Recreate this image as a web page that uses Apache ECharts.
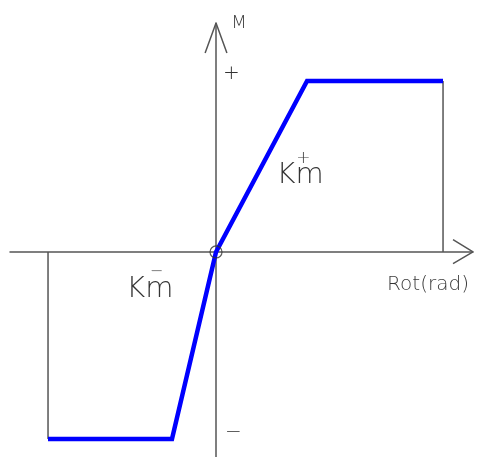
<!DOCTYPE html>
<html>
<head>
<meta charset="utf-8">
<script src="https://cdn.jsdelivr.net/npm/echarts@6/dist/echarts.min.js"></script>
<style>html,body{margin:0;padding:0;background:#fff}#c{width:477px;height:457px}</style>
</head>
<body>
<div id="c"></div>
<script>
// Moment-rotation envelope (normalised units)
const rotation = [-0.74, -0.194, 0, 0.401, 1.0];
const moment   = [-1.094, -1.094, 0, 1.0, 1.0];
// axis extents
const xRange = [-0.9075, 1.132];
const yRange = [-1.199, 1.339];
// label texts
const labels = [
  {text: 'M', at: [0.101, 1.336], size: 18},
  {text: '+', at: [0.068, 1.041], size: 20},
  {text: '\u2212', at: [0.077, -1.058], size: 20},
  {text: 'Rot(rad)', at: [0.934, -0.19], size: 20},
  {text: 'Km', at: [-0.291, -0.22], size: 29},
  {text: '\u2212', at: [-0.262, -0.118], size: 16},
  {text: 'Km', at: [0.370, 0.448], size: 29},
  {text: '+', at: [0.385, 0.545], size: 17}
];

const axisColor = '#555';
const font = 'DejaVu Sans';
const chart = echarts.init(document.getElementById('c'), null, {renderer: 'canvas'});

const env = rotation.map((r, i) => [r, moment[i]]);
const xMax = xRange[1], yMax = yRange[1];
const xArrow = [[xMax - 0.088, 0.072], [xMax, 0], [xMax - 0.088, -0.068]];
const yArrow = [[-0.048, yMax - 0.175], [0, yMax], [0.048, yMax - 0.175]];
const rightDrop = [[rotation[4], moment[4]], [rotation[4], 0]];
const leftDrop = [[rotation[0], 0], [rotation[0], moment[0]]];

function thin(data) {
  return {type: 'line', data, symbol: 'none', silent: true, animation: false,
    lineStyle: {color: axisColor, width: 1.5}, z: 2};
}

chart.setOption({
  animation: false,
  grid: {left: 10, right: 4, top: 23, bottom: 0, containLabel: false},
  xAxis: {type: 'value', min: xRange[0], max: xRange[1],
    axisLine: {show: true, onZero: true, lineStyle: {color: axisColor, width: 1.5}},
    axisTick: {show: false}, axisLabel: {show: false}, splitLine: {show: false}},
  yAxis: {type: 'value', min: yRange[0], max: yRange[1],
    axisLine: {show: true, onZero: true, lineStyle: {color: axisColor, width: 1.5}},
    axisTick: {show: false}, axisLabel: {show: false}, splitLine: {show: false}},
  series: [
    thin(xArrow), thin(yArrow), thin(rightDrop), thin(leftDrop),
    {type: 'line', data: env, symbol: 'none', z: 5,
      lineStyle: {color: '#0000ff', width: 4.5, join: 'miter'}},
    {type: 'scatter', data: [[0, 0]], symbol: 'circle', symbolSize: 12, z: 6,
      itemStyle: {color: 'rgba(0,0,0,0)', borderColor: '#333', borderWidth: 1.2}},
    {type: 'scatter', symbolSize: 0, z: 7,
      data: labels.map(l => ({value: l.at, label: {show: true, formatter: l.text,
        position: 'inside', fontSize: l.size, fontFamily: font, fontWeight: 200,
        color: '#000'}}))}
  ]
});
</script>
</body>
</html>
